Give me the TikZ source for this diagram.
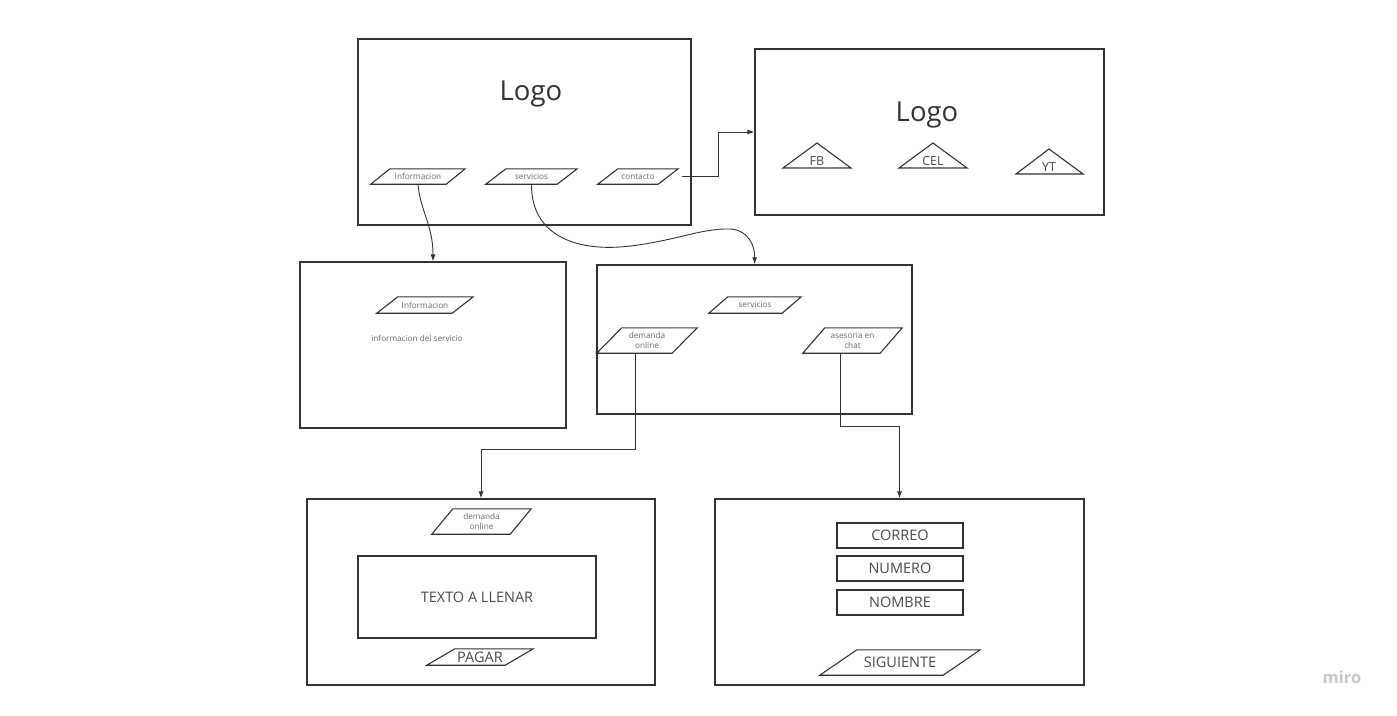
\documentclass[tikz,border=0pt]{standalone}
\usepackage{fontspec}
\setmainfont{Open Sans}
\usetikzlibrary{arrows.meta,calc}
\definecolor{ln}{HTML}{333333}
\definecolor{tx}{HTML}{4A4A4A}
\definecolor{sm}{HTML}{6A6A6A}
\definecolor{mr}{HTML}{C5C7D0}
\tikzset{
  box/.style={draw=ln, line width=1.3pt, rectangle, inner sep=0pt},
  field/.style={draw=ln, line width=1.1pt, rectangle, inner sep=0pt, minimum width=126pt, minimum height=25pt, text=tx, font=\fontsize{14.5}{16}\selectfont},
  lab/.style={inner sep=0pt, text=sm, align=center, font=\fontsize{8.2}{10.5}\selectfont},
  big/.style={text=tx, font=\fontsize{14.5}{16}\selectfont},
  tri/.style={text=tx, font=\fontsize{12.5}{14}\selectfont},
  paraline/.style={draw=ln, line width=1.1pt, line join=miter},
  conn/.style={draw=ln, line width=0.9pt},
  arr/.style={conn, -{Latex[length=7pt,width=5pt]}},
}
\newcommand\para[8]{%
  \node[lab, minimum width=#4pt, minimum height=#5pt, #8] (#1) at (#2,#3) {#7};
  \draw[paraline] (#1.south west) -- ([xshift=#6pt]#1.north west) -- (#1.north east) -- ([xshift=-#6pt]#1.south east) -- cycle;}
\begin{document}
\begin{tikzpicture}[x=1pt,y=-1pt]
\useasboundingbox[fill=white] (0,0) rectangle (1397,715);
% main boxes
\node[box, minimum width=333pt, minimum height=186pt] (box1) at (524.5,132) {};
\node[box, minimum width=349pt, minimum height=166pt] (box2) at (929.5,132) {};
\node[box, minimum width=266pt, minimum height=166pt] (box3) at (433,345) {};
\node[box, minimum width=315pt, minimum height=149pt] (box4) at (754.5,339.5) {};
\node[box, minimum width=348pt, minimum height=186pt] (box5) at (481,592) {};
\node[box, minimum width=369pt, minimum height=186pt] (box6) at (899.5,592) {};
% logos
\node[text=ln, font=\fontsize{27.5}{30}\selectfont] (logo1) at (531,93.5) {Logo};
\node[text=ln, font=\fontsize{27.5}{30}\selectfont] (logo2) at (927,114.5) {Logo};
% box1 menu
\para{info1}{418}{176.5}{94}{15}{19}{Informacion}{}
\para{serv1}{531.5}{176.5}{91}{15}{20}{servicios}{}
\para{cont1}{638}{176.5}{80}{15}{20}{contacto}{}
% box2 triangles
\draw[paraline] (783,168) -- (817,143) -- (851,168) -- cycle;
\node[tri] (fb) at (817,161) {FB};
\draw[paraline] (899,168) -- (933,143) -- (967,168) -- cycle;
\node[tri] (cel) at (933,161) {CEL};
\draw[paraline] (1016,174) -- (1049,149) -- (1083,174) -- cycle;
\node[tri] (yt) at (1049,167) {YT};
% box3
\para{info3}{425}{305}{96}{16}{21}{Informacion}{}
\node[lab] (infotxt) at (417,338) {informacion del servicio};
% box4
\para{serv4}{755}{305}{92}{16}{19}{servicios}{}
\para{dem4}{647}{340.5}{100}{25}{25}{demanda\\online}{}
\para{ases4}{852.5}{340.5}{99}{25}{22}{asesoria en\\chat}{}
% box5
\para{dem5}{481.5}{521.5}{99}{25}{21}{demanda\\online}{}
\node[box, big, minimum width=238pt, minimum height=82pt] (texto) at (477,597) {TEXTO A LLENAR};
\para{pagar}{480}{657}{106}{16}{28}{PAGAR}{big}
% box6
\node[field] (correo) at (900,535.5) {CORREO};
\node[field] (numero) at (900,568.5) {NUMERO};
\node[field] (nombre) at (900,602.5) {NOMBRE};
\para{sig}{900}{662.5}{160}{25}{37}{SIGUIENTE}{big}
% connectors
\draw[arr] (info1.south) .. controls (420,210) and (433,225) .. (box3.north);
\draw[arr] (serv1.south) .. controls (531,235) and (575,250) .. (620,247)
   .. controls (670,243) and (700,228) .. (730,229) .. controls (748,230) and (755,245) .. (box4.north);
\draw[arr] ([xshift=4pt]cont1.east) -- ++(36,0) |- (box2.west);
\draw[arr] ([xshift=-12pt]dem4.south) -- ++(0,96.5) -| (box5.north);
\draw[arr] ([xshift=-12.5pt]ases4.south) -- ++(0,73.5) -| (box6.north);
% watermark
\node[text=mr, font=\fontsize{16.5}{18}\selectfont\bfseries] (miro) at (1342,677) {miro};
\end{tikzpicture}
\end{document}
